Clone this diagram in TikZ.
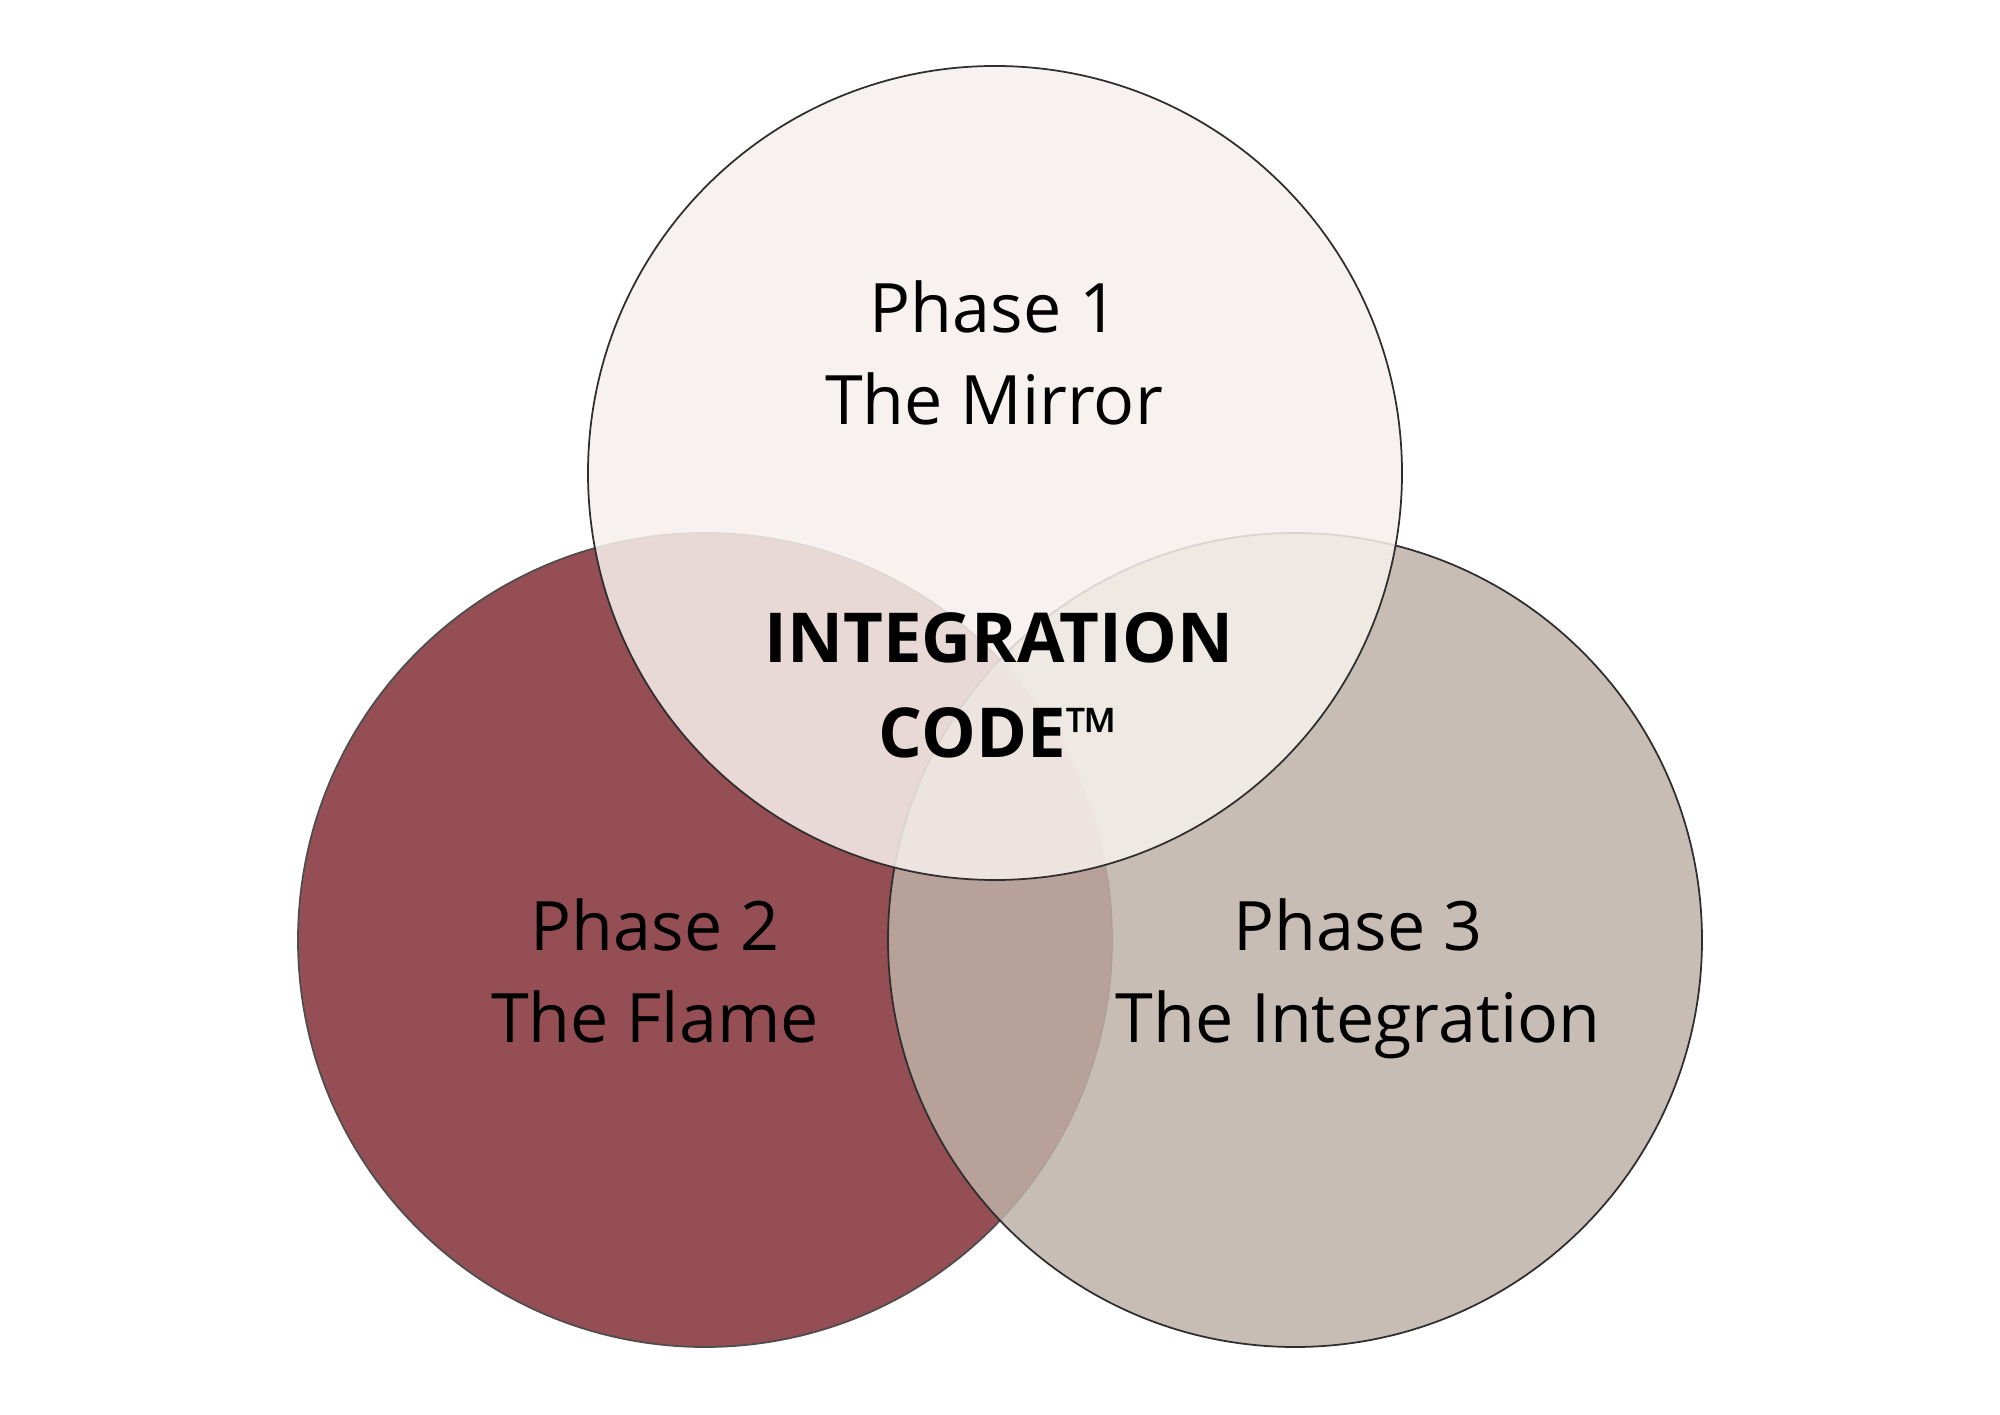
\documentclass[tikz,border=0pt]{standalone}
\usepackage{fontspec}
\setmainfont{Open Sans}
\usetikzlibrary{positioning}

\begin{document}
\begin{tikzpicture}[
  x=1cm,y=1cm,
  disc/.style={circle,draw=#1,line width=0.5pt,inner sep=0pt,outer sep=0pt,minimum size=8.14cm},
  phasetext/.style={align=center,anchor=base,inner sep=0pt,font=\fontsize{19.4}{26.2}\selectfont},
  coretext/.style={align=center,anchor=base,inner sep=0pt,font=\fontsize{19.6}{27.3}\selectfont\bfseries},
]
\definecolor{flameRed}{HTML}{954F54}
\definecolor{integTaupe}{HTML}{BEB1A6}
\definecolor{mirrorWhite}{HTML}{F6F0EC}
\definecolor{rimGray}{HTML}{2E2E2E}

\useasboundingbox (0,0) rectangle (20,14.14);

% the three phases, bottom to top
\node[disc=rimGray!85,fill=flameRed] (flame) at (7.05,4.74) {};
\node[disc=rimGray,fill=integTaupe,fill opacity=0.845] (integ) at (12.95,4.74) {};
\node[disc=rimGray,fill=mirrorWhite,fill opacity=0.86] (mirror) at (9.95,9.41) {};

% base anchor sits on the last line
\node[phasetext] (p1) at (9.94,9.89) {Phase 1\\The Mirror};
\node[coretext] (core) at (9.99,6.56) {INTEGRATION\\CODE{\mdseries ™}};
\node[phasetext] (p2) at (6.55,3.71) {Phase 2\\The Flame};
\node[phasetext] (p3) at (13.58,3.71) {Phase 3\\The Integration};
\end{tikzpicture}
\end{document}
